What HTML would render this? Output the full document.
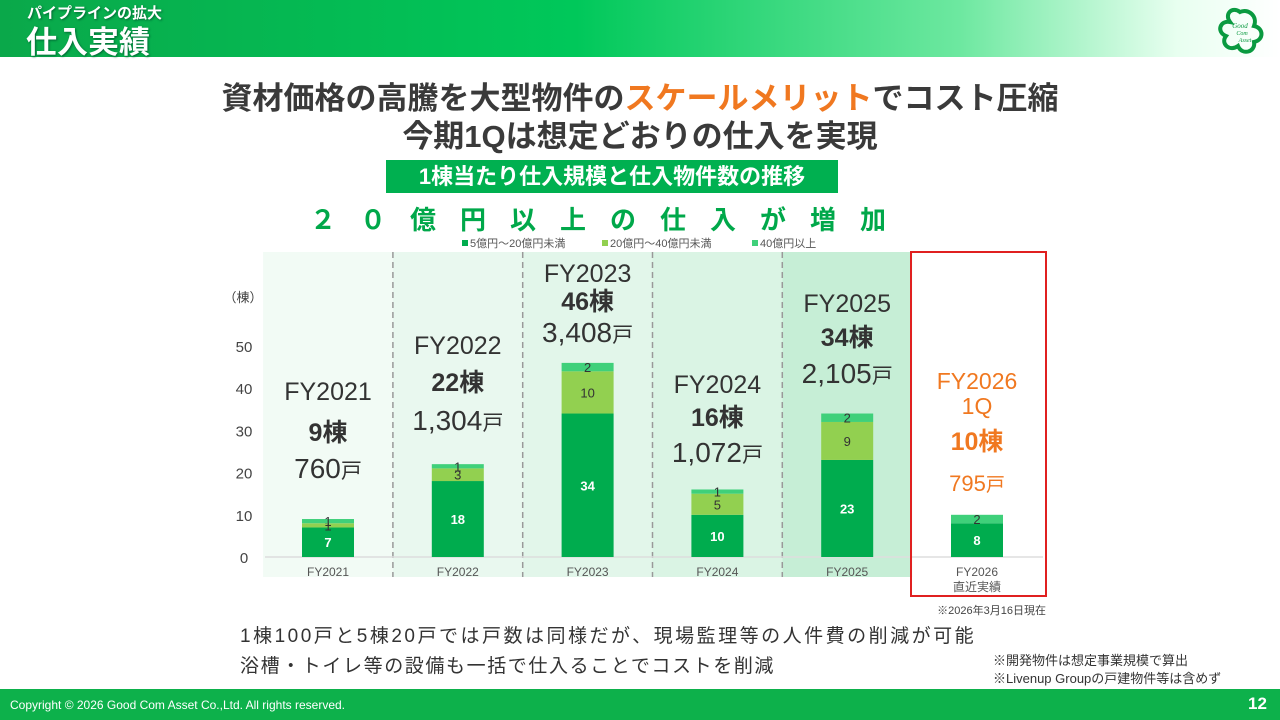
<!DOCTYPE html>
<html><head><meta charset="utf-8">
<style>
body{margin:0;width:1280px;height:720px;position:relative;overflow:hidden;background:#fff;font-family:"Liberation Sans","Noto Sans CJK JP",sans-serif;}
.abs{position:absolute;}
#hdr{left:0;top:0;width:1280px;height:57px;background:linear-gradient(90deg,#0aa84a 0%,#00c85a 45%,#6de8a0 75%,#e8fff0 92%,#fff 100%);}
#ftr{left:0;top:689px;width:1280px;height:31px;background:#0db14b;color:#fff;}
.t1{left:0;width:1280px;text-align:center;font-weight:bold;color:#3a3a3a;font-size:31px;}
</style></head><body>
<div id="hdr" class="abs">
  <div class="abs" style="left:27px;top:2px;color:#fff;font-size:15px;font-weight:bold;text-shadow:1px 1px 2px #063">パイプラインの拡大</div>
  <div class="abs" style="left:26px;top:17px;color:#fff;font-size:31px;font-weight:bold;text-shadow:1px 1px 2px #063">仕入実績</div>
</div>
<svg class="abs" style="left:1212px;top:4px" width="56" height="56">
  <path d="M28 8 C20 2 12 10 18 18 C8 16 4 28 14 32 C8 40 18 48 26 42 C30 52 44 48 42 38 C52 36 52 24 42 22 C46 12 36 4 28 8Z" fill="none" stroke="#0a9a40" stroke-width="4"/>
  <text x="28" y="24" font-size="7" fill="#0a9a40" text-anchor="middle" font-family="Liberation Serif" font-style="italic">Good</text>
  <text x="30" y="31" font-size="6" fill="#0a9a40" text-anchor="middle" font-family="Liberation Serif" font-style="italic">Com</text>
  <text x="33" y="38" font-size="6" fill="#0a9a40" text-anchor="middle" font-family="Liberation Serif" font-style="italic">Asset</text>
</svg>
<div class="abs t1" style="top:73px">資材価格の高騰を大型物件の<span style="color:#f07820">スケールメリット</span>でコスト圧縮</div>
<div class="abs t1" style="top:111px">今期1Qは想定どおりの仕入を実現</div>
<div class="abs" style="left:386px;top:160px;width:452px;height:33px;background:#00b050;color:#fff;font-size:22px;font-weight:bold;text-align:center;line-height:33px">1棟当たり仕入規模と仕入物件数の推移</div>
<div class="abs" style="left:300px;top:200px;width:620px;text-align:center;color:#00a84a;font-size:26px;font-weight:bold;letter-spacing:24px">２０億円以上の仕入が増加</div>

<svg id="chart" class="abs" style="left:0;top:0" width="1280" height="720"></svg>

<div class="abs" style="left:240px;top:621px;font-size:19px;letter-spacing:2.5px;color:#333">1棟100戸と5棟20戸では戸数は同様だが、現場監理等の人件費の削減が可能</div>
<div class="abs" style="left:240px;top:651px;font-size:19px;letter-spacing:1.6px;color:#333">浴槽・トイレ等の設備も一括で仕入ることでコストを削減</div>
<div class="abs" style="left:993px;top:650px;font-size:13px;color:#333">※開発物件は想定事業規模で算出</div>
<div class="abs" style="left:993px;top:668px;font-size:13px;color:#333">※Livenup Groupの戸建物件等は含めず</div>
<div id="ftr" class="abs">
  <div class="abs" style="left:10px;top:9px;font-size:12px">Copyright © 2026 Good Com Asset Co.,Ltd. All rights reserved.</div>
  <div class="abs" style="left:1248px;top:5px;font-size:17px;font-weight:bold">12</div>
</div>
<script>
const categories=["FY2021","FY2022","FY2023","FY2024","FY2025","FY2026"];
const seriesSmall=[7,18,34,10,23,8];
const seriesMid=[1,3,10,5,9,0];
const seriesLarge=[1,1,2,1,2,2];
const totalBuildings=["9棟","22棟","46棟","16棟","34棟","10棟"];
const totalUnits=["760","1,304","3,408","1,072","2,105","795"];
const yTicks=[0,10,20,30,40,50];
const seriesNames=["5億円～20億円未満","20億円～40億円未満","40億円以上"];
const colors=["#00ac4e","#92d050","#3fd07a"];
const NS="http://www.w3.org/2000/svg";
const svg=document.getElementById('chart');
const y0=557,pxPer=4.22,x0=328,step=129.8,bw=52;
const y=v=>y0-v*pxPer, xc=i=>x0+i*step;
const annoYear=[391,345,273,384,303,380];
const annoBldg=[432,382,301,417,337,441];
const annoUnit=[468,420,332,452,373,483];
function mk(tag,attrs,txt){const e=document.createElementNS(NS,tag);for(const k in attrs)e.setAttribute(k,attrs[k]);if(txt!==undefined)e.textContent=txt;svg.appendChild(e);return e;}
const bgs=["#f2fbf5","#e9f8ef","#e2f6ea","#daf4e4","#c6eed6"];
bgs.forEach((c,i)=>{const r=mk('rect',{x:xc(i)-step/2,y:252,width:step,height:325,fill:c});

});
for(let i=1;i<5;i++){const l=mk('line',{x1:xc(i)-step/2,x2:xc(i)-step/2,y1:252,y2:577,stroke:'#999','stroke-dasharray':'6,4','stroke-width':1.5});

}
const ax=mk('line',{x1:265,x2:1043,y1:y0,y2:y0,stroke:'#ddd','stroke-width':1.5});


yTicks.forEach(t=>{const e=mk('text',{x:244,y:y(t)+6,'font-size':15,fill:'#444','text-anchor':'middle'},t);

});
const yu=mk('text',{x:243,y:302,'font-size':13,fill:'#444','text-anchor':'middle'},'（棟）');


const lx=[462,602,752];
seriesNames.forEach((n,i)=>{const r=mk('rect',{x:lx[i],y:240,width:6,height:6,fill:colors[i]});


const t=mk('text',{x:lx[i]+8,y:247,'font-size':11,fill:'#555'},n);

});
categories.forEach((c,i)=>{
  const segs=[seriesSmall[i],seriesMid[i],seriesLarge[i]];let acc=0;
  segs.forEach((v,s)=>{if(!v)return;
    const r=mk('rect',{x:xc(i)-bw/2,y:y(acc+v),width:bw,height:v*pxPer,fill:colors[s]});
    
    
    const lt=mk('text',{x:xc(i),y:(y(acc)+y(acc+v))/2+5,'font-size':13,fill:s==0?'#fff':'#333','text-anchor':'middle','font-weight':s==0?'bold':'normal'},v);
    
    
    acc+=v;});
  const isLast=i==5;
  const col=isLast?'#f07820':'#333';
  const xl=mk('text',{x:xc(i),y:576,'font-size':12,fill:'#555','text-anchor':'middle'},c);
  
  
  const u=mk('text',{x:xc(i),y:annoUnit[i]+(isLast?8:10),'font-size':isLast?22:28,fill:col,'text-anchor':'middle'});
  
  
  u.innerHTML=totalUnits[i]+'<tspan font-size="'+(isLast?19:21)+'">戸</tspan>';
  const b=mk('text',{x:xc(i),y:annoBldg[i]+9,'font-size':25,'font-weight':'bold',fill:col,'text-anchor':'middle'},totalBuildings[i]);
  
  
  const f=mk('text',{x:xc(i),y:annoYear[i]+9,'font-size':isLast?23:25,fill:col,'text-anchor':'middle'},c);
  
  
  if(isLast){
    const q=mk('text',{x:xc(i),y:annoYear[i]+34,'font-size':23,fill:col,'text-anchor':'middle'},'1Q');
    
    
    const s2=mk('text',{x:xc(i),y:591,'font-size':12,fill:'#555','text-anchor':'middle'},'直近実績');
    
    
  }
});
const rb=mk('rect',{x:911,y:252,width:135,height:344,fill:'none',stroke:'#e02020','stroke-width':2});


const asof=mk('text',{x:1046,y:614,'font-size':11,fill:'#444','text-anchor':'end'},'※2026年3月16日現在');


</script>
</body></html>
